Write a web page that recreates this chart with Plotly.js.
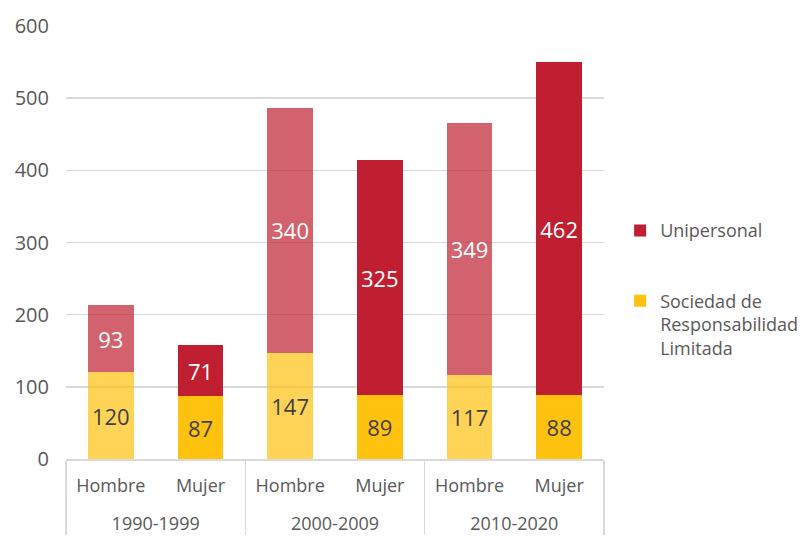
<!DOCTYPE html>
<html><head><meta charset="utf-8">
<script src="https://cdn.plot.ly/plotly-3.0.1.min.js"></script>
<style>html,body{margin:0;padding:0;background:#fff}#chart{width:802px;height:539px}</style>
</head><body><div id="chart"></div>
<script>
const decades = ["1990-1999","1990-1999","2000-2009","2000-2009","2010-2020","2010-2020"];
const sexes = ["Hombre","Mujer","Hombre","Mujer","Hombre","Mujer"];
const sociedad = [120, 87, 147, 89, 117, 88];
const unipersonal = [93, 71, 340, 325, 349, 462];
const barOpacity = [0.7, 1, 0.7, 1, 0.7, 1];
const yTicks = [0, 100, 200, 300, 400, 500, 600];

const font = "Open Sans, Noto Sans, sans-serif";
// extra small blank line under inner labels to widen spacing between label rows
const sexLabels = sexes.map(s => s + "<br><span style='font-size:9px'>&nbsp;</span>");

const traces = [
  {
    type: "bar", name: "Sociedad de<br>Responsabilidad<br>Limitada",
    x: [decades, sexLabels], y: sociedad, text: sociedad.map(String),
    textposition: "inside", insidetextanchor: "middle",
    textfont: {color: "#404040", size: 22, family: font},
    marker: {color: "#FFC20E", opacity: barOpacity},
    legendgroup: "s", legendrank: 2, hoverinfo: "skip"
  },
  {
    type: "bar", name: "Unipersonal",
    x: [decades, sexLabels], y: unipersonal, text: unipersonal.map(String),
    textposition: "inside", insidetextanchor: "middle",
    textfont: {color: "#ffffff", size: 22, family: font},
    marker: {color: "#C01F32", opacity: barOpacity},
    legendgroup: "u", legendrank: 1, hoverinfo: "skip"
  }
];

const layout = {
  width: 802, height: 539,
  margin: {l: 66, r: 198, t: 26, b: 80, autoexpand: false},
  barmode: "stack", bargap: 0.49,
  paper_bgcolor: "#fff", plot_bgcolor: "#fff",
  font: {family: font, size: 18, color: "#595959"},
  showlegend: true,
  legend: {x: 1.03, y: 0.57, xanchor: "left", yanchor: "top", valign: "top",
    traceorder: "grouped", tracegroupgap: 44, font: {size: 18, color: "#595959"}},
  xaxis: {type: "multicategory", showline: true, linecolor: "#d9d9d9", linewidth: 1.5,
    showdividers: true, dividercolor: "#d9d9d9", dividerwidth: 1.5,
    tickfont: {size: 18, color: "#595959"}, ticks: "", ticklabelstandoff: 10},
  yaxis: {range: [0, 600], tickvals: yTicks, showgrid: true, gridcolor: "#d9d9d9", gridwidth: 1.5,
    zeroline: false, showline: false, ticks: "", ticklabelstandoff: 16,
    tickfont: {size: 20, color: "#595959"}}
};
Plotly.newPlot("chart", traces, layout, {displayModeBar: false, staticPlot: true});
</script></body></html>
